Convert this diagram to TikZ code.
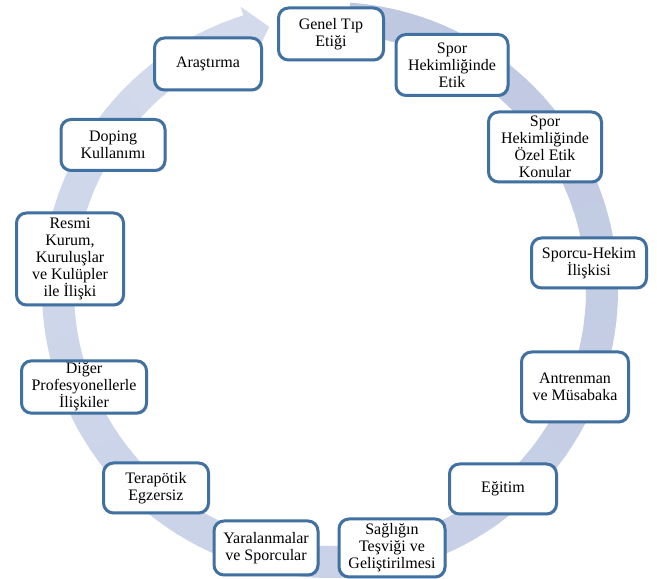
\documentclass[tikz,border=0pt]{standalone}
\usepackage{fontspec}
\setmainfont{Liberation Serif}
\usetikzlibrary{shadows}
\definecolor{bandA}{RGB}{190,200,225}
\definecolor{bandB}{RGB}{210,218,236}
\definecolor{boxline}{RGB}{65,113,160}
\tikzset{
  topic/.style={draw=boxline, line width=3pt, fill=white, rounded corners=10pt,
    align=center, inner sep=2pt, font=\fontsize{16}{17}\selectfont,
    drop shadow={opacity=0.25, shadow xshift=1.5pt, shadow yshift=-1.5pt}},
  band/.style={shift={(c)}}
}
\begin{document}
\begin{tikzpicture}[x=1pt,y=1pt]
\useasboundingbox (0,0) rectangle (657,579);
\coordinate (c) at (330,289);
% circular arrow band
\foreach \i in {0,...,69}{
  \pgfmathsetmacro\aa{86-\i*4.835714}
  \pgfmathsetmacro\ab{86-(\i+1)*4.835714-0.4}
  \pgfmathtruncatemacro\p{100-\i*1.449275}
  \fill[bandA!\p!bandB, band] (\aa:256) arc[start angle=\aa, end angle=\ab, radius=256]
     -- (\ab:288) arc[start angle=\ab, end angle=\aa, radius=288] -- cycle;
}
\fill[bandB, band] (-252.5:247) -- (-252.5:297) -- (-257:270) -- cycle;
% topics
\node[topic, minimum width=105pt, minimum height=52pt] (gen) at (331,545) {Genel Tıp\\Etiği};
\node[topic, minimum width=107pt, minimum height=52pt] (ara) at (208,515) {Araştırma};
\node[topic, minimum width=112pt, minimum height=61pt] (spe) at (452,514) {Spor\\Hekimliğinde\\Etik};
\node[topic, minimum width=113pt, minimum height=70pt] (oze) at (545,432) {Spor\\Hekimliğinde\\Özel Etik\\Konular};
\node[topic, minimum width=115pt, minimum height=50pt] (sho) at (589,316) {Sporcu-Hekim\\İlişkisi};
\node[topic, minimum width=107pt, minimum height=70pt] (ant) at (575,192) {Antrenman\\ve Müsabaka};
\node[topic, minimum width=107pt, minimum height=50pt] (egi) at (503,90) {Eğitim};
\node[topic, minimum width=106pt, minimum height=58pt] (sag) at (392,31) {Sağlığın\\Teşviği ve\\Geliştirilmesi};
\node[topic, minimum width=104pt, minimum height=54pt] (yar) at (266,31) {Yaralanmalar\\ve Sporcular};
\node[topic, minimum width=105pt, minimum height=50pt] (ter) at (156,91) {Terapötik\\Egzersiz};
\node[topic, minimum width=125pt, minimum height=50pt] (dig) at (84,192) {Diğer\\Profesyonellerle\\İlişkiler};
\node[topic, minimum width=107pt, minimum height=92pt] (res) at (70,320) {Resmi\\Kurum,\\Kuruluşlar\\ve Kulüpler\\ile İlişki};
\node[topic, minimum width=104pt, minimum height=51pt] (dop) at (113,434) {Doping\\Kullanımı};
\end{tikzpicture}
\end{document}
